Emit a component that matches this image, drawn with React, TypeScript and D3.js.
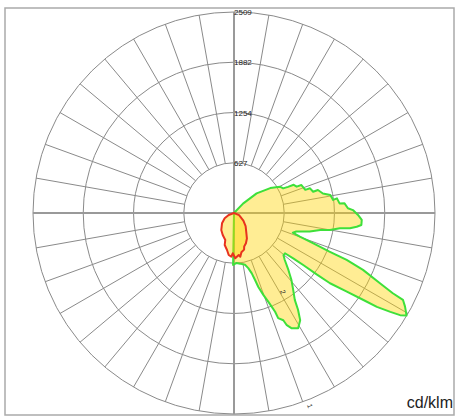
import * as d3 from "d3";
import React from "react";

// ring values (cd/klm) printed along the vertical axis
const ringValues = [627, 1254, 1882, 2509];
const unitLabel = "cd/klm";

// plane 1 (green outline): angle from nadir in degrees, intensity in cd/klm
const greenAngles = [
  -3, -1, 3, 7, 12, 14.5, 16.4, 17.4, 18.2, 19.7, 21.1, 21.9, 22.6, 22.8, 24.7, 25.2, 26.6,
  29.1, 31.7, 33.5, 35, 37.6, 40.7, 43.6, 47.3, 49.6, 51.7, 52.6, 53.1, 53.4, 53.8, 55.1,
  56.1, 56.7, 57.7, 58.4, 59.3, 61.3, 62.8, 63.2, 64.3, 66.2, 67.4, 68, 69.1, 70.2, 71.5,
  73.4, 76.2, 78.8, 80, 81.8, 82.5, 83.6, 84.6, 86.9, 89.1, 91.4, 92.4, 95, 95.2, 98.1,
  97.5, 100.6, 102.4, 105.3, 105, 108, 108, 112.5, 112.8, 115.3, 115.8, 116.6, 119.8,
  124.5, 131, 136, 140,
];
const greenValues = [
  0, 649, 624, 637, 661, 711, 786, 874, 973, 1086, 1186, 1260, 1335, 1423, 1473, 1548, 1610,
  1647, 1572, 1448, 1323, 1211, 1098, 986, 861, 811, 811, 936, 1086, 1285, 1485, 1710,
  1947, 2134, 2309, 2434, 2505, 2434, 2371, 2221, 2022, 1760, 1523, 1285, 1061, 874, 774,
  811, 973, 1098, 1217, 1335, 1460, 1541, 1597, 1597, 1548, 1485, 1423, 1385, 1323, 1298,
  1248, 1223, 1136, 1086, 1023, 998, 936, 911, 849, 824, 749, 686, 661,
  549, 374, 162, 0,
];

// plane 2 (red outline)
const redAngles = [
  -80, -69, -60.3, -49.4, -36.8, -27.2, -17.9, -16.2, -10.7, -7.2, -3.5, -1.8, 1.6, 6.4,
  8.2, 10.7, 15.4, 16.9, 21.5, 26.9, 33.6, 41.7, 51.2, 67, 80,
];
const redValues = [
  0, 71, 134, 197, 265, 308, 354, 416, 470, 528, 547, 503, 565, 528,
  552, 499, 474, 437, 406, 356, 275, 218, 150, 69, 0,
];

const W = 457;
const H = 418;
const cx = 234;
const cy = 213;
const R = 201;

const toRad = (deg: number) => (deg * Math.PI) / 180;

export default function App() {
  const r = d3.scaleLinear().domain([0, d3.max(ringValues) as number]).range([0, R]);
  const spokes = d3.range(0, 360, 10);

  // angle 0 = straight down, positive towards the right
  const line = d3
    .lineRadial<[number, number]>()
    .angle((d) => toRad(180 - d[0]))
    .radius((d) => r(d[1]))
    .curve(d3.curveLinearClosed);

  const green = line(greenAngles.map((a, i) => [a, greenValues[i]])) || "";
  const red = line(redAngles.map((a, i) => [a, redValues[i]])) || "";
  const r0 = r(ringValues[0]);

  return (
    <svg
      width={W}
      height={H}
      style={{ position: "absolute", left: 0, top: 0, background: "#fff" }}
      fontFamily="Liberation Sans, Arial, sans-serif"
    >
      <rect x={5} y={8} width={449} height={407} fill="none" stroke="#aaa" strokeWidth={1.5} />
      <g transform={`translate(${cx},${cy})`}>
        {spokes
          .filter((a) => a % 90 !== 0)
          .map((a) => (
            <line
              key={a}
              x1={r0 * Math.sin(toRad(a))}
              y1={r0 * Math.cos(toRad(a))}
              x2={R * Math.sin(toRad(a))}
              y2={R * Math.cos(toRad(a))}
              stroke="#8a8a8a"
              strokeWidth={1}
            />
          ))}
        {ringValues.map((v) => (
          <circle key={v} r={r(v)} fill="none" stroke="#8a8a8a" strokeWidth={1} />
        ))}
        <line x1={-R} y1={0} x2={R} y2={0} stroke="#999" strokeWidth={2} />
        <line x1={0} y1={-R} x2={0} y2={R} stroke="#999" strokeWidth={2} />
        <path d={green} fill="#ffd400" fillOpacity={0.42} stroke="#3ee03a" strokeWidth={2} strokeLinejoin="round" />
        <path d={red} fill="#ffd400" fillOpacity={0.42} stroke="#e8321e" strokeWidth={2} strokeLinejoin="round" />
        {ringValues.map((v) => (
          <text key={v} x={0} y={-r(v) + 3} fontSize={8} fill="#222">
            {v}
          </text>
        ))}
        <text x={46} y={78} fontSize={7} fill="#222" transform="rotate(70,46,78)">2</text>
        <text x={73} y={192} fontSize={7} fill="#222" transform="rotate(70,73,192)">1</text>
      </g>
      <text x={453} y={408} fontSize={16} textAnchor="end" fill="#222">
        {unitLabel}
      </text>
    </svg>
  );
}
